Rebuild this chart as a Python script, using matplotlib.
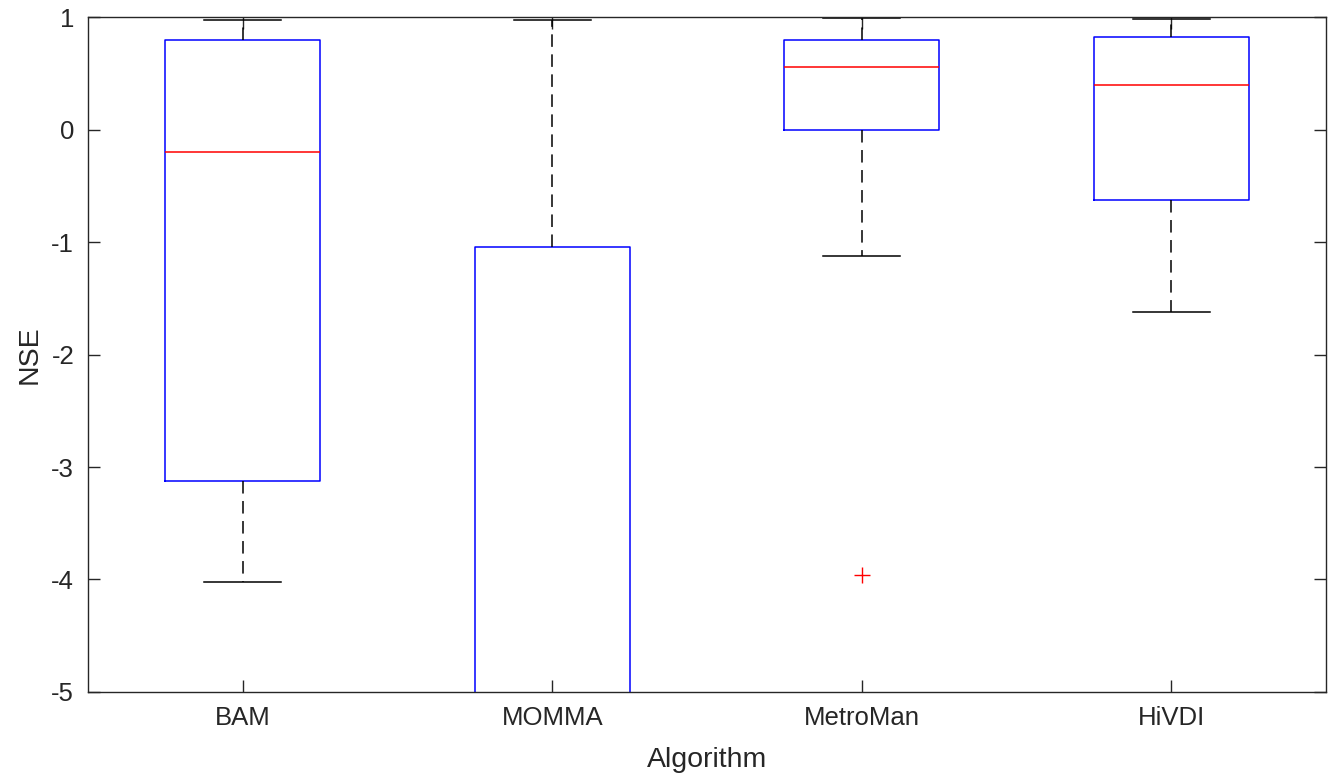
import matplotlib.pyplot as plt

plt.rcParams['font.family'] = ['Liberation Sans', 'DejaVu Sans']
plt.rcParams['axes.unicode_minus'] = False

algorithms = ["BAM", "MOMMA", "MetroMan", "HiVDI"]
# box statistics per algorithm (NSE)
whisker_hi = [0.97, 0.97, 0.99, 0.98]
q3 = [0.80, -1.04, 0.80, 0.82]
median = [-0.20, -7.5, 0.556, 0.396]
q1 = [-3.12, -16.0, 0.0, -0.63]
whisker_lo = [-4.02, -35.0, -1.12, -1.62]
outliers = [[], [], [-3.96], []]

stats = []
for i, name in enumerate(algorithms):
    stats.append(dict(label=name, med=median[i], q1=q1[i], q3=q3[i],
                      whislo=whisker_lo[i], whishi=whisker_hi[i],
                      fliers=outliers[i]))

fig = plt.figure(figsize=(13.28, 7.77), dpi=100)
ax = fig.add_axes([0.0663, 0.1094, 0.9322, 0.8687])

lw = 1.1
ax.bxp(stats, positions=[1, 2, 3, 4], widths=0.5, capwidths=0.25,
       boxprops=dict(color="#0000ff", linewidth=lw),
       medianprops=dict(color="#ff0000", linewidth=lw),
       whiskerprops=dict(color="black", linewidth=lw, linestyle=(0, (8.2, 4.9))),
       capprops=dict(color="black", linewidth=lw),
       flierprops=dict(marker="+", markeredgecolor="#ff0000", markersize=12,
                       markeredgewidth=1.0, linestyle="none"))

ax.set_xlim(0.5, 4.5)
ax.set_ylim(-5, 1)
ax.set_yticks([-5, -4, -3, -2, -1, 0, 1])
ax.set_xticks([1, 2, 3, 4])
ax.set_xticklabels(algorithms)

dark = "#262626"
for s in ax.spines.values():
    s.set_color(dark)
    s.set_linewidth(1.0)
ax.tick_params(direction="in", top=True, right=True, length=8.6, width=1.0,
               colors=dark, labelsize=18.5, pad=10)

ax.set_xlabel("Algorithm", fontsize=20.5, color=dark)
ax.set_ylabel("NSE", fontsize=20.5, color=dark)
ax.xaxis.label.set_va("center")
ax.yaxis.label.set_va("center")
ax.xaxis.set_label_coords(0.5, -0.101)
ax.yaxis.set_label_coords(-0.047, 0.5)

fig.savefig("out.png", dpi=100)
